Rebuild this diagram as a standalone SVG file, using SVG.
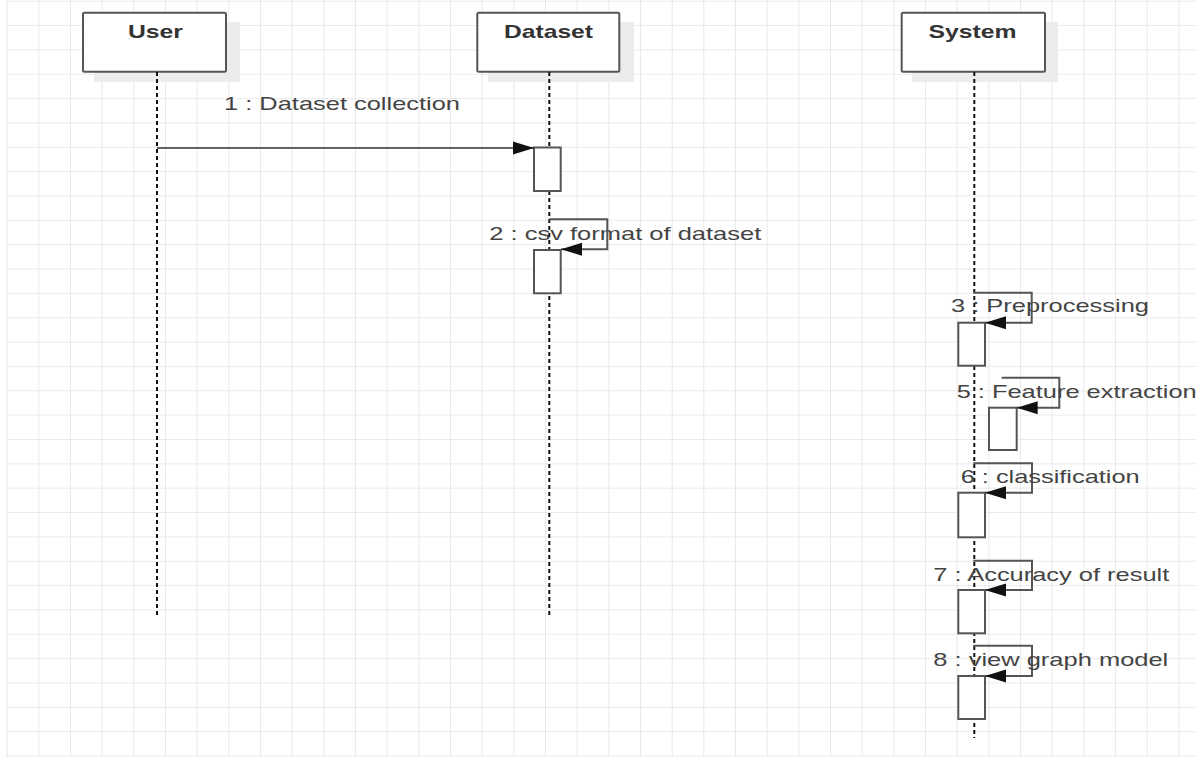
<svg xmlns="http://www.w3.org/2000/svg" width="1201" height="762" viewBox="0 0 1201 762">
  <defs>
    <pattern id="grid" patternUnits="userSpaceOnUse" x="6.6" y="0.7" width="31.67" height="24.35">
      <path d="M0 0 V24.35 M0 0 H31.67" fill="none" stroke="#e4e4e4" stroke-width="1.6"/>
    </pattern>
    <marker id="head" markerUnits="userSpaceOnUse" markerWidth="22" markerHeight="14" refX="21" refY="7" orient="auto">
      <path d="M0 0.5 L21 7 L0 13.5 Z" fill="#111"/>
    </marker>
    <style>
      .box { fill: #fff; stroke: #555; stroke-width: 2; }
      .shadow { fill: #ececec; }
      .title { font-family: "Liberation Sans", Arial, sans-serif; font-weight: bold; font-size: 19px; fill: #333; text-anchor: middle; }
      .life { stroke: #111; stroke-width: 2; stroke-dasharray: 4 3; fill: none; }
      .act { fill: #fff; stroke: #555; stroke-width: 2; }
      .msg { fill: none; stroke: #333; stroke-width: 1.6; }
      .loop { fill: none; stroke: #555; stroke-width: 2; }
      .lbl { font-family: "Liberation Sans", Arial, sans-serif; font-size: 19px; fill: #444; }
    </style>
  </defs>

  <rect width="1201" height="762" fill="#fff"/>
  <rect x="6" y="0" width="1190" height="757" fill="url(#grid)"/>

  <!-- lifeline: User -->
  <g id="user">
    <rect class="shadow" x="94" y="22" width="146" height="60"/>
    <rect class="box" x="83" y="12.7" width="143" height="59" rx="1.5"/>
    <text class="title" x="155.5" y="38.3" textLength="55" lengthAdjust="spacingAndGlyphs">User</text>
    <line class="life" x1="157" y1="72" x2="157" y2="617"/>
  </g>

  <!-- lifeline: Dataset -->
  <g id="dataset">
    <rect class="shadow" x="488" y="22" width="146" height="60"/>
    <rect class="box" x="477.3" y="12.7" width="142" height="59" rx="1.5"/>
    <text class="title" x="548.5" y="38.3" textLength="89" lengthAdjust="spacingAndGlyphs">Dataset</text>
    <line class="life" x1="549.3" y1="72" x2="549.3" y2="617"/>
    <rect class="act" x="534" y="147.5" width="26.7" height="43.5"/>
    <rect class="act" x="534" y="250" width="26.7" height="43.3"/>
  </g>

  <!-- lifeline: System -->
  <g id="system">
    <rect class="shadow" x="912" y="22" width="146" height="60"/>
    <rect class="box" x="901.7" y="12.7" width="143.3" height="59" rx="1.5"/>
    <text class="title" x="972.5" y="38.3" textLength="88" lengthAdjust="spacingAndGlyphs">System</text>
    <line class="life" x1="974.3" y1="72" x2="974.3" y2="738"/>
    <rect class="act" x="958.3" y="322.7" width="26.7" height="43"/>
    <rect class="act" x="989" y="407.7" width="27.7" height="42.3"/>
    <rect class="act" x="958.3" y="492.7" width="26.7" height="44.6"/>
    <rect class="act" x="958.3" y="590" width="26.7" height="43.3"/>
    <rect class="act" x="958.3" y="676" width="26.7" height="43"/>
  </g>

  <!-- messages -->
  <g id="connectors">
    <line class="msg" x1="157" y1="148" x2="534" y2="148" marker-end="url(#head)"/>
    <text class="lbl" x="224" y="110" textLength="236" lengthAdjust="spacingAndGlyphs">1 : Dataset collection</text>

    <path class="loop" d="M549.3 219.3 H607.3 V249.3 H561" marker-end="url(#head)"/>
    <text class="lbl" x="489.3" y="240" textLength="272" lengthAdjust="spacingAndGlyphs">2 : csv format of dataset</text>

    <path class="loop" d="M973.3 292.7 H1031.7 V322.7 H985" marker-end="url(#head)"/>
    <text class="lbl" x="951" y="312.3" textLength="198" lengthAdjust="spacingAndGlyphs">3 : Preprocessing</text>

    <path class="loop" d="M1001.7 377.7 H1059.3 V407.7 H1016.7" marker-end="url(#head)"/>
    <text class="lbl" x="956.7" y="398.3" textLength="240" lengthAdjust="spacingAndGlyphs">5 : Feature extraction</text>

    <path class="loop" d="M973.3 463.3 H1032 V492.7 H985" marker-end="url(#head)"/>
    <text class="lbl" x="960.7" y="483.3" textLength="179" lengthAdjust="spacingAndGlyphs">6 : classification</text>

    <path class="loop" d="M973.3 560.7 H1032 V590 H985" marker-end="url(#head)"/>
    <text class="lbl" x="933.3" y="580.7" textLength="236" lengthAdjust="spacingAndGlyphs">7 : Accuracy of result</text>

    <path class="loop" d="M973.3 645.7 H1032 V676 H985" marker-end="url(#head)"/>
    <text class="lbl" x="933.3" y="665.7" textLength="235" lengthAdjust="spacingAndGlyphs">8 : view graph model</text>
  </g>
</svg>
